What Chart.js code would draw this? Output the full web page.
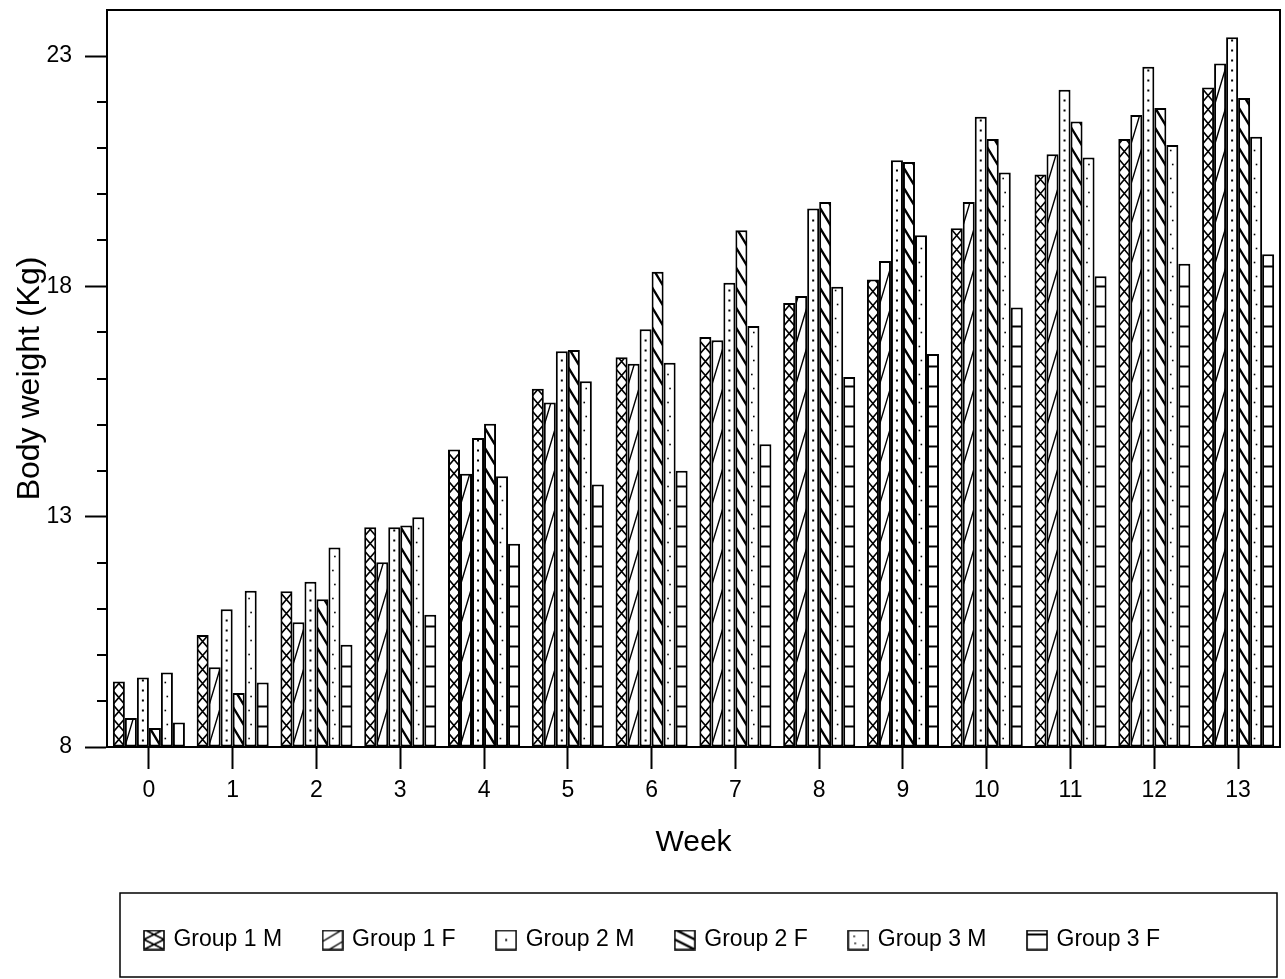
<!DOCTYPE html>
<html>
<head>
<meta charset="utf-8">
<title>Body weight by week</title>
<script src="https://cdn.jsdelivr.net/npm/chart.js@4/dist/chart.umd.min.js"></script>
<style>
  html, body { margin: 0; padding: 0; background: #fff; }
  #wrap { width: 1285px; height: 979px; position: relative; }
</style>
</head>
<body>
<div id="wrap"><canvas id="c" width="1285" height="979"></canvas></div>
<script>
// Weeks on study
const weeks = ['0', '1', '2', '3', '4', '5', '6', '7', '8', '9', '10', '11', '12', '13'];

// Mean body weight (kg) per group and sex
const group1M = [9.42, 10.43, 11.38, 12.77, 14.46, 15.78, 16.46, 16.90, 17.64, 18.15, 19.26, 20.43, 21.20, 22.32];
const group1F = [8.63, 9.73, 10.71, 12.01, 13.93, 15.48, 16.32, 16.83, 17.79, 18.55, 19.83, 20.87, 21.72, 22.84];
const group2M = [9.51, 10.99, 11.59, 12.77, 14.71, 16.59, 17.07, 18.08, 19.69, 20.74, 21.68, 22.27, 22.77, 23.41];
const group2F = [8.41, 9.17, 11.21, 12.81, 15.02, 16.62, 18.32, 19.22, 19.83, 20.70, 21.20, 21.58, 21.87, 22.09];
const group3M = [9.62, 11.39, 12.33, 12.99, 13.88, 15.94, 16.34, 17.14, 17.99, 19.11, 20.47, 20.80, 21.07, 21.25];
const group3F = [8.53, 9.40, 10.22, 10.87, 12.41, 13.70, 14.00, 14.57, 16.03, 16.53, 17.54, 18.22, 18.49, 18.70];

const seriesLabels = ['Group 1 M', 'Group 1 F', 'Group 2 M', 'Group 2 F', 'Group 3 M', 'Group 3 F'];
const seriesValues = [group1M, group1F, group2M, group2F, group3M, group3F];

// Y axis: labelled ticks every 5 kg, minor ticks every 1 kg
const yMin = 8, yMax = 24;
const yLabelled = [8, 13, 18, 23];

const FONT = "'Liberation Sans', Arial, Helvetica, sans-serif";
const LEGEND_HEIGHT = 93;

// Black-and-white fill patterns, drawn inside a rectangle
function drawFill(ctx, kind, l, t, r, b, swatch) {
  ctx.strokeStyle = '#000';
  ctx.fillStyle = '#000';
  ctx.lineCap = 'butt';
  const w = r - l;
  ctx.beginPath();
  if (kind === 0) {            // cross-hatch diamonds
    const h = swatch ? 10 : 14;
    ctx.lineWidth = 1.6;
    for (let yy = b; yy > t - h; yy -= h) {
      ctx.moveTo(l, yy); ctx.lineTo(r, yy - h);
      ctx.moveTo(l, yy - h); ctx.lineTo(r, yy);
    }
    ctx.stroke();
  } else if (kind === 1) {     // sparse forward slashes
    const h = swatch ? 12 : 40;
    ctx.lineWidth = 1.4;
    for (let yy = b + (swatch ? 4 : 0); yy > t - h; yy -= h) {
      ctx.moveTo(l, yy); ctx.lineTo(r, yy - h);
    }
    ctx.stroke();
  } else if (kind === 2) {     // single column of dots
    const cx = l + w / 2;
    if (swatch) {
      ctx.fillRect(cx - 1, (t + b) / 2 - 1, 2, 2);
    } else {
      for (let yy = b - 6; yy > t + 2; yy -= 10) ctx.fillRect(cx - 1, yy - 1, 2, 2);
    }
  } else if (kind === 3) {     // heavy back slashes
    const h = swatch ? 10 : 20;
    ctx.lineWidth = 2.4;
    for (let yy = b + h; yy > t - h; yy -= h) {
      ctx.moveTo(l, yy - h); ctx.lineTo(r, yy);
    }
    ctx.stroke();
  } else if (kind === 4) {     // light scattered dots
    if (swatch) {
      ctx.fillRect(l + 5, t + 5, 1.6, 1.6);
      ctx.fillRect(l + 6, t + 12, 1.6, 1.6);
      ctx.fillRect(l + 14, b - 5, 1.6, 1.6);
    } else {
      const cx = l + w * 0.45;
      let k = 0;
      for (let yy = b - 8; yy > t + 3; yy -= 14, k++) {
        ctx.fillRect(cx + (k % 2 ? 1 : -1) - 0.8, yy - 0.8, 1.6, 1.6);
      }
    }
  } else if (kind === 5) {     // stacked horizontal bands
    ctx.lineWidth = 2;
    if (swatch) {
      ctx.moveTo(l, t + 4); ctx.lineTo(r, t + 4);
    } else {
      for (let yy = b - 20; yy > t + 5; yy -= 20) { ctx.moveTo(l, yy); ctx.lineTo(r, yy); }
    }
    ctx.stroke();
  }
}

// Legend swatches as small canvases
const swatches = seriesLabels.map((_, i) => {
  const cv = document.createElement('canvas');
  cv.width = 22; cv.height = 21;
  const c = cv.getContext('2d');
  c.fillStyle = '#fff';
  c.fillRect(1, 1, 20, 19);
  c.save();
  c.beginPath(); c.rect(1, 1, 20, 19); c.clip();
  drawFill(c, i, 1, 1, 21, 20, true);
  c.restore();
  c.lineWidth = 1.6;
  c.strokeStyle = '#000';
  c.strokeRect(1, 1, 20, 19);
  return cv;
});

// Give the legend box a fixed height so the plot keeps its size
const legendHeight = {
  id: 'legendHeight',
  beforeLayout(chart) {
    const lg = chart.legend;
    if (lg && !lg.__fixedHeight) {
      const fit = lg.fit.bind(lg);
      lg.fit = function () { fit(); this.height = LEGEND_HEIGHT; };
      lg.__fixedHeight = true;
    }
  }
};

// Overlay each bar's pattern inside its outline
const barPatterns = {
  id: 'barPatterns',
  afterDatasetsDraw(chart) {
    const ctx = chart.ctx;
    const a = chart.chartArea;
    chart.data.datasets.forEach((ds, i) => {
      const meta = chart.getDatasetMeta(i);
      meta.data.forEach(bar => {
        const p = bar.getProps(['x', 'y', 'base', 'width'], true);
        const l = p.x - p.width / 2, r = p.x + p.width / 2;
        const t = Math.max(a.top, Math.min(p.y, p.base));
        const b = Math.min(a.bottom, Math.max(p.y, p.base));
        ctx.save();
        ctx.beginPath();
        ctx.rect(l + 1, t + 1, r - l - 2, b - t - 2);
        ctx.clip();
        drawFill(ctx, i, l, t, r, b, false);
        ctx.restore();
      });
    });
  }
};

// Plot frame, minor y ticks and legend frame
const frame = {
  id: 'frame',
  afterDraw(chart) {
    const ctx = chart.ctx;
    const a = chart.chartArea;
    const ys = chart.scales.y;
    ctx.save();
    ctx.strokeStyle = '#000';
    ctx.lineWidth = 2;
    ctx.strokeRect(a.left, a.top, a.right - a.left, a.bottom - a.top);
    ctx.beginPath();
    for (let v = yMin + 1; v < yMax; v++) {
      if (yLabelled.includes(v)) continue;
      const py = Math.round(ys.getPixelForValue(v));
      ctx.moveTo(a.left - 10, py); ctx.lineTo(a.left, py);
    }
    ctx.stroke();
    const lg = chart.legend;
    ctx.lineWidth = 1.5;
    ctx.strokeRect(a.left + 13, lg.top + 7, (a.right - 3) - (a.left + 13), (lg.bottom - 2) - (lg.top + 7));
    ctx.restore();
  }
};

Chart.defaults.font.family = FONT;
Chart.defaults.color = '#000';

new Chart(document.getElementById('c'), {
  type: 'bar',
  data: {
    labels: weeks,
    datasets: seriesValues.map((vals, i) => ({
      label: seriesLabels[i],
      data: vals,
      base: yMin,
      backgroundColor: '#fff',
      borderColor: '#000',
      borderWidth: 2,
      borderSkipped: false,
      categoryPercentage: 0.86,
      barPercentage: 1.0
    }))
  },
  options: {
    responsive: false,
    animation: false,
    layout: { padding: { top: 10, right: 5, bottom: 0, left: 26 } },
    plugins: {
      tooltip: { enabled: false },
      legend: {
        position: 'bottom',
        labels: {
          usePointStyle: true,
          pointStyleWidth: 16,
          padding: 42.5,
          font: { size: 23, family: FONT },
          color: '#000',
          generateLabels: chart => chart.data.datasets.map((ds, i) => ({
            text: ds.label,
            pointStyle: swatches[i],
            fillStyle: '#fff',
            strokeStyle: '#000',
            lineWidth: 0,
            hidden: false,
            datasetIndex: i,
            fontColor: '#000'
          }))
        }
      }
    },
    scales: {
      x: {
        grid: { offset: false, drawOnChartArea: false, tickLength: 22, tickColor: '#000', tickWidth: 2 },
        border: { color: '#000', width: 2 },
        ticks: { font: { size: 23 }, padding: 8, maxRotation: 0, autoSkip: false },
        title: { display: true, text: 'Week', font: { size: 30 }, padding: { top: 0, bottom: 25 } },
        afterFit: s => { s.height = 139; s.paddingLeft = 0; s.paddingRight = 0; }
      },
      y: {
        min: yMin,
        max: yMax,
        grid: {
          drawOnChartArea: false,
          tickLength: 22,
          tickWidth: 2,
          tickColor: c => yLabelled.includes(c.tick.value) ? '#000' : 'rgba(0,0,0,0)'
        },
        border: { color: '#000', width: 2 },
        ticks: {
          stepSize: 1,
          autoSkip: false,
          padding: 13,
          font: { size: 23 },
          callback: v => yLabelled.includes(v) ? String(v) : ''
        },
        title: { display: true, text: 'Body weight (Kg)', font: { size: 32, lineHeight: 1.0 }, padding: { top: -12, bottom: 0 } },
        afterFit: s => { s.width = 81; s.paddingTop = 0; s.paddingBottom = 0; }
      }
    }
  },
  plugins: [legendHeight, barPatterns, frame]
});
</script>
</body>
</html>
